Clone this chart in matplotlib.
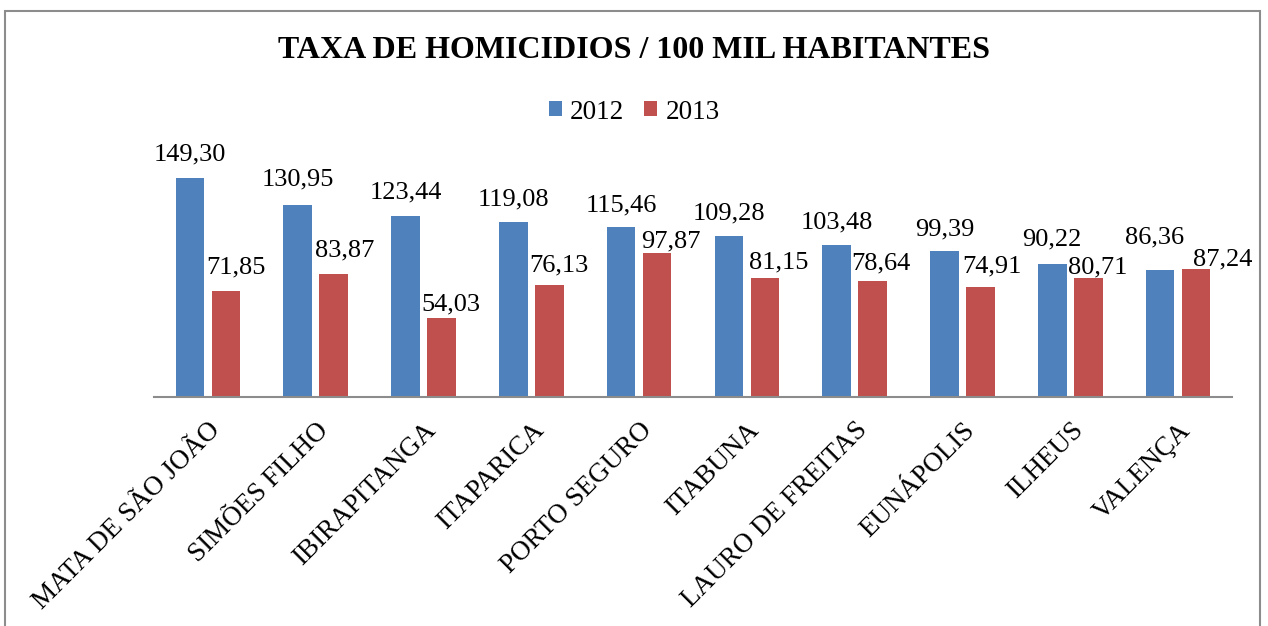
import numpy as np
import matplotlib.pyplot as plt
from matplotlib.patches import Rectangle

cidades = ["MATA DE SÃO JOÃO", "SIMÕES FILHO", "IBIRAPITANGA", "ITAPARICA",
           "PORTO SEGURO", "ITABUNA", "LAURO DE FREITAS", "EUNÁPOLIS",
           "ILHEUS", "VALENÇA"]
taxa_2012 = [149.30, 130.95, 123.44, 119.08, 115.46, 109.28, 103.48, 99.39, 90.22, 86.36]
taxa_2013 = [71.85, 83.87, 54.03, 76.13, 97.87, 81.15, 78.64, 74.91, 80.71, 87.24]

# posicao dos rotulos (pixels): deslocamento horizontal e distancia acima da barra
rot_2012_dx = [0, 0, 0, 0, 0, 0, 0, 0, 0, -6]
rot_2012_dy = [17, 19, 17, 17, 16, 17, 17, 16, 19, 27]
rot_2013_dx = [10, 11, 9, 10, 14, 14, 8, 11, 9, 27]
rot_2013_dy = [18, 17, 7, 14, 6, 9, 12, 15, 5, 3]

plt.rcParams['font.family'] = ['Liberation Serif', 'DejaVu Serif']

azul = '#4F81BD'
vermelho = '#C0504D'

fig = plt.figure(figsize=(12.68, 6.26), dpi=100)
fig.patches.append(Rectangle((5/1268, -0.1), 1255/1268, 1.1 - 11/626,
                             transform=fig.transFigure, fill=False,
                             edgecolor='#8c8c8c', linewidth=1.5))

ax = fig.add_axes([154/1268, 229/626, 1078/1268, 235/626])
x = np.arange(len(cidades))
w = 0.265
off = 0.167

b1 = ax.bar(x - off, taxa_2012, w, color=azul, label='2012')
b2 = ax.bar(x + off, taxa_2013, w, color=vermelho, label='2013')

def fmt(v):
    return f"{v:.2f}".replace('.', ',')

for xi, v, dx, dy in zip(x, taxa_2012, rot_2012_dx, rot_2012_dy):
    ax.annotate(fmt(v), (xi - off, v), xytext=(dx, dy), textcoords='offset pixels',
                ha='center', va='baseline', fontsize=19)
for xi, v, dx, dy in zip(x, taxa_2013, rot_2013_dx, rot_2013_dy):
    ax.annotate(fmt(v), (xi + off, v), xytext=(dx, dy), textcoords='offset pixels',
                ha='center', va='baseline', fontsize=19)

ax.set_xlim(-0.5, len(cidades) - 0.5)
ax.set_ylim(0, 160)
ax.set_yticks([])
ax.set_xticks(x)
ax.set_xticklabels(cidades, rotation=45, ha='right', rotation_mode='anchor', fontsize=19.5)
ax.tick_params(axis='x', length=0, pad=15)
for s in ['top', 'right', 'left']:
    ax.spines[s].set_visible(False)
ax.spines['bottom'].set_color('#8c8c8c')
ax.spines['bottom'].set_linewidth(1.5)

fig.text(0.5, 1 - 51/626, "TAXA DE HOMICIDIOS / 100 MIL HABITANTES", ha='center', va='center',
         fontsize=23, fontweight='bold')
fig.legend(handles=[b1, b2], loc='center', bbox_to_anchor=(0.5, 1 - 112/626), ncol=2,
           frameon=False, fontsize=19.5, handlelength=0.48, handleheight=0.48,
           handletextpad=0.3, columnspacing=0.75)

fig.savefig('out.png', dpi=100)
